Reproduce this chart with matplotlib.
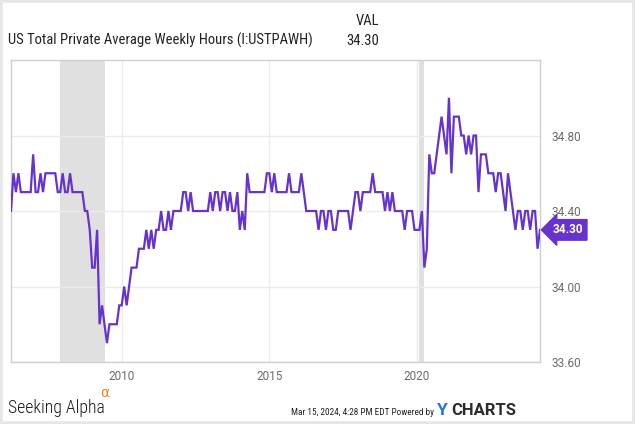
import numpy as np
import matplotlib
matplotlib.use("Agg")
import matplotlib.pyplot as plt
from matplotlib.patches import Rectangle
from matplotlib.transforms import blended_transform_factory

# US Total Private Average Weekly Hours, monthly, Mar 2006 - Feb 2024
start_year = 2006
start_month = 3
hours = [
    34.4, 34.6, 34.5, 34.6, 34.5, 34.5, 34.5, 34.5, 34.5, 34.7,  # 2006
    34.5, 34.5, 34.6, 34.5, 34.6, 34.6, 34.6, 34.6, 34.6, 34.5,
    34.5, 34.6, 34.5, 34.5, 34.6, 34.5, 34.5, 34.5, 34.5, 34.5,
    34.4, 34.4, 34.3, 34.1, 34.1, 34.3, 33.8, 33.9, 33.8, 33.7,
    33.8, 33.8, 33.8, 33.8, 33.9, 33.9, 34.0, 33.9, 34.0, 34.1,
    34.1, 34.1, 34.2, 34.2, 34.2, 34.3, 34.2, 34.3, 34.2, 34.3,
    34.3, 34.4, 34.3, 34.3, 34.4, 34.3, 34.4, 34.4, 34.4, 34.4,
    34.5, 34.5, 34.4, 34.5, 34.4, 34.4, 34.4, 34.4, 34.4, 34.4,
    34.4, 34.5, 34.4, 34.5, 34.5, 34.4, 34.5, 34.5, 34.4, 34.5,
    34.4, 34.4, 34.5, 34.3, 34.4, 34.3, 34.6, 34.5, 34.5, 34.5,
    34.5, 34.5, 34.5, 34.5, 34.6, 34.6, 34.5, 34.6, 34.5, 34.5,
    34.5, 34.5, 34.5, 34.6, 34.5, 34.5, 34.5, 34.5, 34.6, 34.5,
    34.4, 34.4, 34.4, 34.4, 34.4, 34.3, 34.4, 34.4, 34.3, 34.4,
    34.4, 34.3, 34.3, 34.4, 34.4, 34.4, 34.4, 34.4, 34.3, 34.4,
    34.5, 34.5, 34.4, 34.5, 34.5, 34.5, 34.5, 34.6, 34.5, 34.5,
    34.5, 34.5, 34.4, 34.5, 34.4, 34.5, 34.4, 34.4, 34.4, 34.4,
    34.3, 34.4, 34.4, 34.4, 34.3, 34.3, 34.3, 34.4, 34.1, 34.2,
    34.7, 34.6, 34.6, 34.7, 34.8, 34.9, 34.8, 34.7, 35.0, 34.6,
    34.9, 34.9, 34.9, 34.8, 34.8, 34.7, 34.8, 34.7, 34.8, 34.8,
    34.5, 34.7, 34.7, 34.7, 34.6, 34.6, 34.6, 34.5, 34.6, 34.6,
    34.5, 34.4, 34.6, 34.5, 34.4, 34.3, 34.4, 34.4, 34.3, 34.4,
    34.4, 34.3, 34.4, 34.4, 34.2, 34.3,
]
recessions = [(2007.917, 2009.417), (2020.083, 2020.25)]
y_ticks = [33.6, 34.0, 34.4, 34.8]
x_ticks = [2010, 2015, 2020]
last_value = "34.30"
title = "US Total Private Average Weekly Hours (I:USTPAWH)"
footer_date = "Mar 15, 2024, 4:28 PM EDT Powered by"

# month-end positions in fractional years
t = start_year + (start_month + np.arange(len(hours))) / 12.0

purple = "#6633cc"
grey_txt = "#6b6b6b"
cond = ["Roboto Condensed", "Roboto", "DejaVu Sans"]

fig = plt.figure(figsize=(6.35, 4.24), dpi=100)
ax = fig.add_axes([11 / 635, 1 - 362 / 424, 529 / 635, 302 / 424])

for a, b in recessions:
    ax.axvspan(a, b, color="#e0e0e0", lw=0, zorder=0)

ax.plot(t, hours, color=purple, lw=1.6, zorder=3, solid_joinstyle="miter")

ax.set_xlim(t[0], t[-1])
ax.set_ylim(33.6, 35.2)
ax.set_yticks(y_ticks)
ax.set_yticklabels(["%.2f" % v for v in y_ticks])
ax.set_xticks(x_ticks)
ax.set_xticklabels([str(v) for v in x_ticks])
ax.yaxis.tick_right()
ax.tick_params(axis="both", length=0, labelsize=8.5, labelcolor=grey_txt)
ax.tick_params(axis="y", pad=8)
ax.tick_params(axis="x", pad=6)
for lab in ax.get_xticklabels() + ax.get_yticklabels():
    lab.set_family("Roboto")
ax.grid(True, color="#ebebeb", lw=1, zorder=1)
for s in ax.spines.values():
    s.set_color("#cfcfcf")
    s.set_linewidth(1)

# last value tag
tr = blended_transform_factory(ax.transAxes, ax.transData)
ax.text(1.024, float(last_value), last_value, transform=tr, ha="left", va="center",
        color="white", fontsize=8.5, fontweight="bold", family="Roboto",
        bbox=dict(boxstyle="larrow,pad=0.32", fc=purple, ec=purple), clip_on=False)

# header
fig.text(8 / 635, 1 - 45 / 424, title, family=cond, fontsize=10.5, color="#222222", va="baseline")
fig.text(379 / 635, 1 - 25 / 424, "VAL", family=cond, fontsize=10.5, color="#222222",
         va="baseline", ha="right")
fig.text(379 / 635, 1 - 45 / 424, last_value, family=cond, fontsize=10.5, color="#222222",
         va="baseline", ha="right")

# footer
fig.text(8 / 635, 1 - 413 / 424, "Seeking Alpha", family=cond, fontweight="light",
         fontsize=12.8, color="#1a1a1a", va="baseline")
fig.text(100 / 635, 1 - 397 / 424, "\u03b1", family="DejaVu Sans", fontsize=10,
         color="#f57f20", va="baseline")
fig.text(434 / 635, 1 - 415 / 424, footer_date, family=cond, fontsize=6.7,
         color="#222222", va="baseline", ha="right")
fig.text(437 / 635, 1 - 415 / 424, "Y", family="Roboto", fontweight="bold", fontsize=12.5,
         color="#1e7ae0", va="baseline")
fig.text(451 / 635, 1 - 415 / 424, "CHARTS", family="Roboto", fontweight="bold",
         fontsize=12, color="#2b2b2b", va="baseline")

fig.patches.append(Rectangle((0, 0), 1, 1, transform=fig.transFigure, fill=False,
                             ec="#e6e6e6", lw=4))

fig.savefig("out.png", dpi=100)
